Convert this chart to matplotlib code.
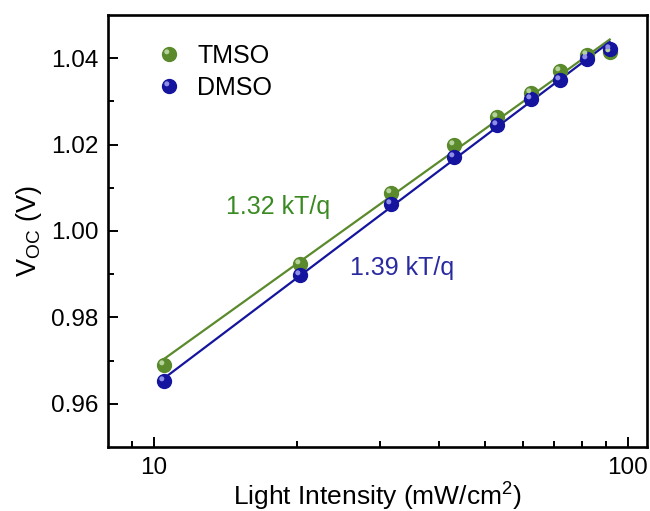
import numpy as np
import matplotlib
matplotlib.use("Agg")
import matplotlib.pyplot as plt
from matplotlib.path import Path
from matplotlib.markers import MarkerStyle
from matplotlib.lines import Line2D
from matplotlib.legend_handler import HandlerTuple

plt.rcParams['font.family'] = ['Liberation Sans', 'DejaVu Sans']
plt.rcParams['mathtext.fontset'] = 'custom'
plt.rcParams['mathtext.rm'] = 'Liberation Sans'

# light intensity (mW/cm2) and open-circuit voltage (V)
intensity = [10.5, 20.3, 31.6, 43.0, 53.0, 62.4, 71.9, 82.0, 91.6]
voc_tmso = [0.9690, 0.9924, 1.0088, 1.0198, 1.0263, 1.0318, 1.0369, 1.0408, 1.0415]
voc_dmso = [0.9652, 0.9897, 1.0062, 1.0171, 1.0246, 1.0305, 1.0349, 1.0397, 1.0421]
ideality = {'TMSO': 1.32, 'DMSO': 1.39}
kT_q = 0.025852  # V at 300 K

green, green_hi = '#5a8a2c', '#b5d29a'
blue, blue_hi = '#14149e', '#8e8ee6'

# off-centre circle used as a specular highlight on each marker
hl = Path.circle((-0.32, 0.32), 0.3)
hl_marker = MarkerStyle(hl)

fig = plt.figure(figsize=(6.5, 5.11), dpi=100)
ax = fig.add_axes([0.166, 0.125, 0.830, 0.846])

x = np.array(intensity)
handles = []
for name, y, c, chi in [('TMSO', voc_tmso, green, green_hi),
                        ('DMSO', voc_dmso, blue, blue_hi)]:
    y = np.array(y)
    # fixed-slope fit: Voc = n kT/q ln(I) + b
    s = ideality[name] * kT_q
    b = np.mean(y - s * np.log(x))
    xf = np.array([x[0], x[-1]])
    ax.plot(xf, s * np.log(xf) + b, color=c, lw=1.6, zorder=2)
    ax.plot(x, y, 'o', ms=10, mfc=c, mec=c, zorder=3)
    ax.plot(x, y, ls='none', marker=hl_marker, ms=7.5, mfc=chi, mec='none', zorder=4)
    handles.append((Line2D([], [], ls='none', marker='o', ms=10, mfc=c, mec=c),
                    Line2D([], [], ls='none', marker=hl_marker, ms=7.5, mfc=chi, mec='none')))

ax.legend(handles, ['TMSO', 'DMSO'], handler_map={tuple: HandlerTuple(ndivide=1)},
          loc='upper left', bbox_to_anchor=(0.05, 0.985), frameon=False,
          fontsize=18, handlelength=0.9, handletextpad=0.7, labelspacing=0.33)

ax.text(14.2, 1.0055, '1.32 kT/q', color='#3a8a22', fontsize=18, va='center')
ax.text(25.9, 0.9914, '1.39 kT/q', color='#2a2aa0', fontsize=18, va='center')

ax.set_xscale('log')
ax.set_xlim(8, 110)
ax.set_ylim(0.95, 1.05)
ax.set_xticks([10, 100])
ax.set_xticklabels(['10', '100'])
ax.set_xticks([9] + list(range(20, 100, 10)), minor=True)
ax.xaxis.set_minor_formatter(matplotlib.ticker.NullFormatter())
ax.set_yticks([0.96, 0.98, 1.00, 1.02, 1.04])
ax.set_yticks([0.97, 0.99, 1.01, 1.03], minor=True)

ax.tick_params(which='both', direction='in', labelsize=17.5, width=1.4)
ax.tick_params(which='major', length=7, pad=7)
ax.tick_params(which='minor', length=4)
for sp in ax.spines.values():
    sp.set_linewidth(1.9)

ax.set_xlabel('Light Intensity (mW/cm$^2$)', fontsize=19, labelpad=0)
ax.set_ylabel('V$_{\\mathrm{OC}}$ (V)', fontsize=19.5, labelpad=5)

fig.savefig('out.png', dpi=100)
